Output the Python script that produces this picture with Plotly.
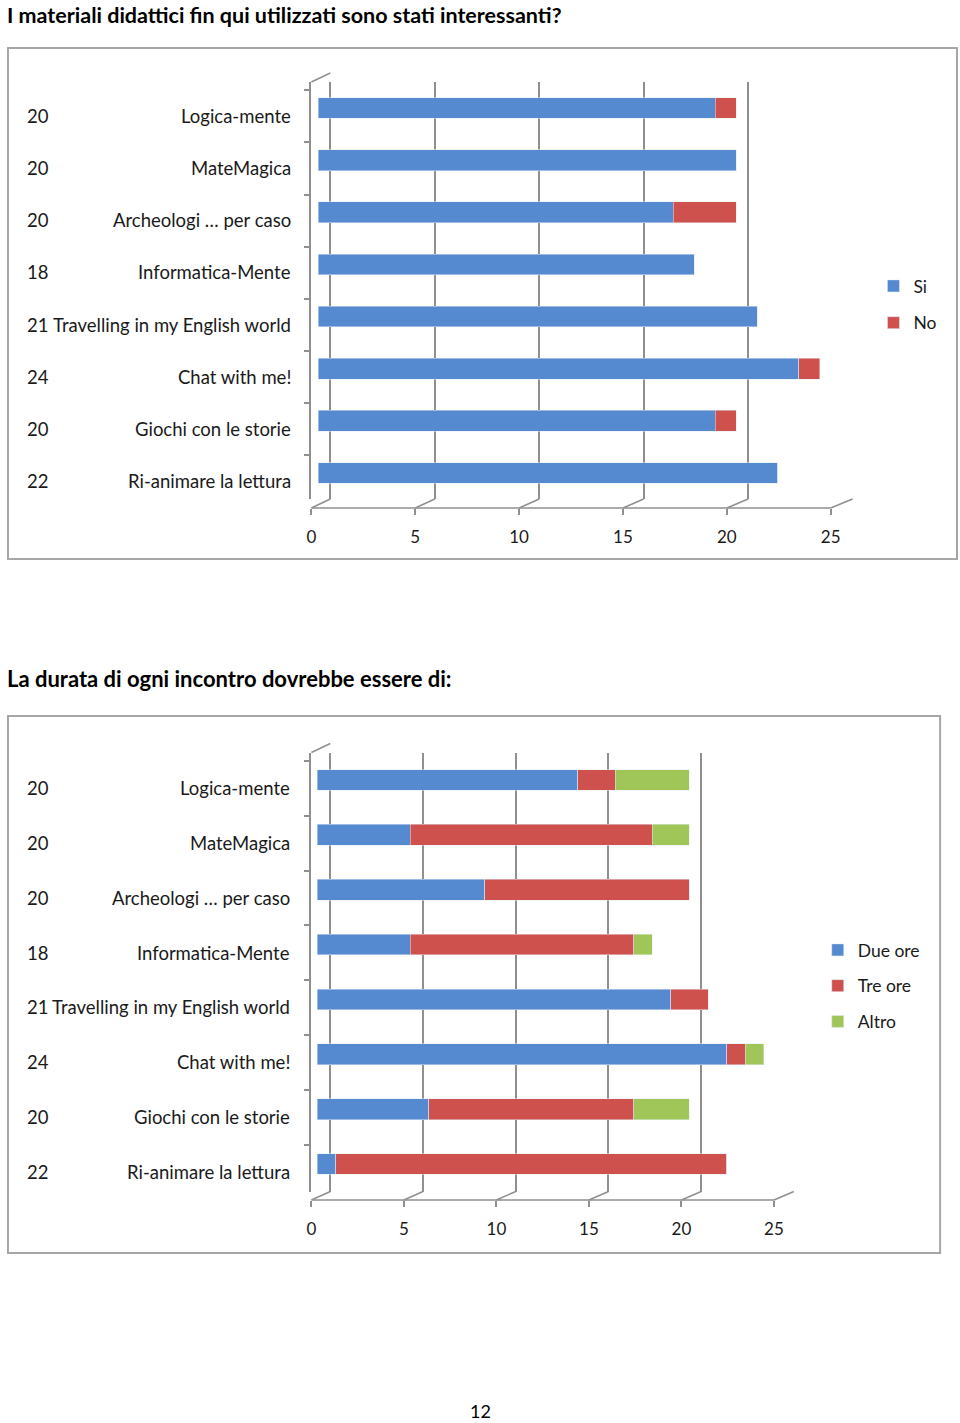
import plotly.graph_objects as go

# ---------------- data ----------------
categories = ["Logica-mente", "MateMagica", "Archeologi … per caso", "Informatica-Mente",
              "Travelling in my English world", "Chat with me!", "Giochi con le storie",
              "Ri-animare la lettura"]
respondents = [20, 20, 20, 18, 21, 24, 20, 22]

si = [19, 20, 17, 18, 21, 23, 19, 22]
no = [1, 0, 3, 0, 0, 1, 1, 0]

due_ore = [14, 5, 9, 5, 19, 22, 6, 1]
tre_ore = [2, 13, 11, 12, 2, 1, 11, 21]
altro = [4, 2, 0, 1, 0, 1, 3, 0]

x_ticks = [0, 5, 10, 15, 20, 25]

title1 = "I materiali didattici fin qui utilizzati sono stati interessanti?"
title2 = "La durata di ogni incontro dovrebbe essere di:"
page_number = "12"

# ---------------- style ----------------
W, H = 960, 1423
FONT = "Lato"
BLUE, RED, GREEN = "#5589d0", "#cf514d", "#a0c65a"
GRID = "#8f8f8f"
TXT = "#1a1a1a"
LABEL_SIZE = 18.5
TICK_SIZE = 17
LEGEND_SIZE = 17.5


def px(p):
    return p / W


def py(p):
    return 1 - p / H


fig = go.Figure()

# chart 1 bars
fig.add_trace(go.Bar(y=categories, x=si, orientation="h", name="Si", marker_color=BLUE,
                     width=0.4, xaxis="x", yaxis="y", legend="legend", legendgroup="a"))
fig.add_trace(go.Bar(y=categories, x=no, orientation="h", name="No", marker_color=RED,
                     width=0.4, xaxis="x", yaxis="y", legend="legend", legendgroup="b"))
# chart 2 bars
fig.add_trace(go.Bar(y=categories, x=due_ore, orientation="h", name="Due ore", marker_color=BLUE,
                     width=0.38, xaxis="x2", yaxis="y2", legend="legend2", legendgroup="c"))
fig.add_trace(go.Bar(y=categories, x=tre_ore, orientation="h", name="Tre ore", marker_color=RED,
                     width=0.38, xaxis="x2", yaxis="y2", legend="legend2", legendgroup="d"))
fig.add_trace(go.Bar(y=categories, x=altro, orientation="h", name="Altro", marker_color=GREEN,
                     width=0.38, xaxis="x2", yaxis="y2", legend="legend2", legendgroup="e"))

# dummy traces so overlay axes get drawn
for xa, ya in [("x3", "y"), ("x5", "y"), ("x", "y3"), ("x4", "y2"), ("x6", "y2"), ("x2", "y4")]:
    fig.add_trace(go.Scatter(x=[None], y=[None], xaxis=xa, yaxis=ya, showlegend=False,
                             hoverinfo="skip", mode="markers"))

ncat = len(categories)
hidden = dict(showgrid=False, zeroline=False, showticklabels=False, ticks="", showline=False)

# geometry (pixels)
c1 = dict(left=308, right=852, top=82, bottom=499, floor=508, bar0=315, bar_u=21.0,
          back0=327, back_u=21.0, front_u=20.88)
c2 = dict(left=308, right=793, top=752.5, bottom=1191.5, floor=1200, bar0=314, bar_u=18.7,
          back0=327, back_u=18.64, front_u=18.6)


def ranges(c):
    bars = [(c["left"] - c["bar0"]) / c["bar_u"], (c["right"] - c["bar0"]) / c["bar_u"]]
    back = [(c["left"] - c["back0"]) / c["back_u"], (c["right"] - c["back0"]) / c["back_u"] + 0.01]
    front = [0, (c["right"] - c["left"]) / c["front_u"]]
    return bars, back, front


r1 = ranges(c1)
r2 = ranges(c2)
shift1 = 8.3 / ((c1["bottom"] - c1["top"]) / ncat)
shift2 = 8.3 / ((c2["bottom"] - c2["top"]) / ncat)


def front_axis(overlay, rng, floor):
    return dict(overlaying=overlay, range=rng, anchor="free", position=py(floor),
                tickvals=x_ticks, ticks="outside", ticklen=6, tickcolor=GRID, tickwidth=1.5,
                showgrid=False, zeroline=False, showline=False,
                tickfont=dict(size=TICK_SIZE, family=FONT, color=TXT), ticklabelstandoff=8)


def back_axis(overlay, rng, anchor):
    return dict(overlaying=overlay, range=rng, anchor=anchor, showgrid=True, gridcolor=GRID,
                gridwidth=1.5, tickvals=x_ticks, zeroline=False, showticklabels=False,
                ticks="", showline=False)


def wall_axis(overlay, anchor, shift):
    return dict(overlaying=overlay, anchor=anchor, side="left", type="linear",
                range=[ncat - 0.5 - shift, -0.5 - shift],
                tickvals=[i - 0.5 for i in range(ncat + 1)], ticks="outside", ticklen=6,
                tickcolor=GRID, tickwidth=1.5, showline=True, linecolor=GRID, linewidth=1.5,
                showgrid=False, zeroline=False, showticklabels=False)


layout = dict(
    width=W, height=H, autosize=False,
    margin=dict(l=0, r=0, t=0, b=0),
    paper_bgcolor="white", plot_bgcolor="rgba(0,0,0,0)",
    barmode="stack",
    font=dict(family=FONT, size=17, color=TXT),
    showlegend=True,
    # chart 1
    xaxis=dict(domain=[px(c1["left"]), px(c1["right"])], range=r1[0], anchor="y", **hidden),
    yaxis=dict(domain=[py(c1["bottom"]), py(c1["top"])], type="category",
               categoryorder="array", categoryarray=categories,
               range=[ncat - 0.5, -0.5], anchor="x", **hidden),
    xaxis3=back_axis("x", r1[1], "y"),
    xaxis5=front_axis("x", r1[2], c1["floor"]),
    yaxis3=wall_axis("y", "x", shift1),
    # chart 2
    xaxis2=dict(domain=[px(c2["left"]), px(c2["right"])], range=r2[0], anchor="y2", **hidden),
    yaxis2=dict(domain=[py(c2["bottom"]), py(c2["top"])], type="category",
                categoryorder="array", categoryarray=categories,
                range=[ncat - 0.5, -0.5], anchor="x2", **hidden),
    xaxis4=back_axis("x2", r2[1], "y2"),
    xaxis6=front_axis("x2", r2[2], c2["floor"]),
    yaxis4=wall_axis("y2", "x2", shift2),
    legend=dict(x=px(873), y=py(268), xanchor="left", yanchor="top",
                bgcolor="rgba(0,0,0,0)", font=dict(size=LEGEND_SIZE, family=FONT, color=TXT),
                tracegroupgap=11, itemwidth=30),
    legend2=dict(x=px(817), y=py(932), xanchor="left", yanchor="top",
                 bgcolor="rgba(0,0,0,0)", font=dict(size=LEGEND_SIZE, family=FONT, color=TXT),
                 tracegroupgap=10, itemwidth=30),
)
fig.update_layout(**layout)

shapes = []
# boxes
shapes.append(dict(type="rect", xref="paper", yref="paper", x0=px(3), x1=px(957),
                   y0=py(559), y1=py(48), line=dict(color="#a6a6a6", width=2)))
shapes.append(dict(type="rect", xref="paper", yref="paper", x0=px(3), x1=px(940),
                   y0=py(1253), y1=py(716), line=dict(color="#a6a6a6", width=2)))

for c, xa in [(c1, "x5"), (c2, "x6")]:
    # floor front line
    shapes.append(dict(type="line", xref=xa, yref="paper", x0=x_ticks[0], x1=x_ticks[-1],
                       y0=py(c["floor"]), y1=py(c["floor"]), line=dict(color=GRID, width=1.5)))
    # floor diagonals (front tick -> back gridline)
    for v in x_ticks:
        shapes.append(dict(type="line", xref="paper", yref="paper",
                           x0=px(c["left"] + v * c["front_u"]), y0=py(c["floor"]),
                           x1=px(c["back0"] + v * c["back_u"]), y1=py(c["bottom"]),
                           line=dict(color=GRID, width=1.5)))
    # top-left wall diagonal
    shapes.append(dict(type="line", xref="paper", yref="paper",
                       x0=px(c["left"]), y0=py(c["top"]),
                       x1=px(c["back0"]), y1=py(c["top"] - 9),
                       line=dict(color=GRID, width=1.5)))
fig.update_layout(shapes=shapes)

ann = []
ann.append(dict(text="<b>" + title1 + "</b>", xref="paper", yref="paper", x=0, y=1,
                xanchor="left", yanchor="top", showarrow=False,
                font=dict(size=21.5, family=FONT, color="#000")))
ann.append(dict(text="<b>" + title2 + "</b>", xref="paper", yref="paper", x=0, y=py(678),
                xanchor="left", yanchor="middle", showarrow=False,
                font=dict(size=22, family=FONT, color="#000")))
ann.append(dict(text=page_number, xref="paper", yref="paper", x=px(478), y=py(1411),
                xanchor="center", yanchor="middle", showarrow=False,
                font=dict(size=18, family=FONT, color="#000")))

for ya, name_x in [("y", 290), ("y2", 289)]:
    for cat, n in zip(categories, respondents):
        ann.append(dict(text=cat, xref="paper", yref=ya, x=px(name_x), y=cat, yshift=-8,
                        xanchor="right", yanchor="middle", showarrow=False,
                        font=dict(size=LABEL_SIZE, family=FONT, color=TXT)))
        ann.append(dict(text=str(n), xref="paper", yref=ya, x=px(33), y=cat, yshift=-8,
                        xanchor="center", yanchor="middle", showarrow=False,
                        font=dict(size=LABEL_SIZE, family=FONT, color=TXT)))
fig.update_layout(annotations=ann)

fig.write_html("out.html", config={"displayModeBar": False},
               post_script="document.body.style.margin='0';"
                           "document.body.style.overflow='hidden';")
